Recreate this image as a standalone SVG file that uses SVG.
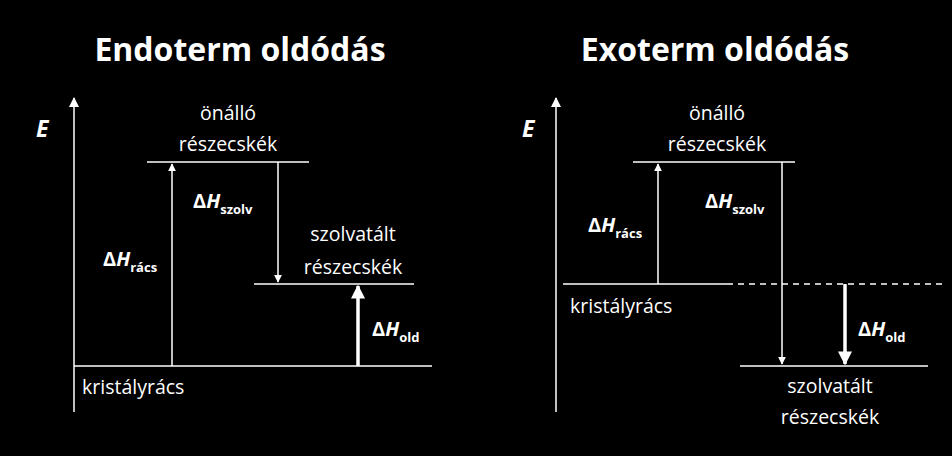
<svg xmlns="http://www.w3.org/2000/svg" width="952" height="456" viewBox="0 0 952 456">
<style>
text{font-family:"Open Sans","Liberation Sans",sans-serif;fill:#fff}
.t{font-size:32px;font-weight:bold;text-anchor:middle}
.l{font-size:19.5px}
.c{text-anchor:middle}
.b{font-weight:bold;font-size:20px}
.s{font-size:13px;font-weight:bold}
line{stroke:#fff;stroke-width:1.5}
.th{stroke-width:3.5}
</style>
<defs>
<marker id="a" viewBox="0 0 10 10" refX="9" refY="5" markerWidth="8" markerHeight="8" markerUnits="userSpaceOnUse" orient="auto"><path d="M0,0L10,5L0,10z" fill="#fff"/></marker>
<marker id="ab" viewBox="0 0 10 10" refX="9" refY="5" markerWidth="4" markerHeight="4" orient="auto"><path d="M0,0L10,5L0,10z" fill="#fff"/></marker>
<marker id="ax" viewBox="0 0 10 10" refX="9" refY="5" markerWidth="14" markerHeight="10" markerUnits="userSpaceOnUse" orient="auto"><path d="M0,0L10,5L0,10z" fill="#fff"/></marker>
</defs>
<rect width="952" height="456" fill="#000"/>
<text class="t" x="240" y="61">Endoterm oldódás</text>
<text class="t" x="715" y="61">Exoterm oldódás</text>
<g id="conn">
<line x1="74" y1="412" x2="74" y2="98" marker-end="url(#ax)"/>
<line x1="74" y1="366" x2="432" y2="366"/>
<line x1="147" y1="162" x2="309" y2="162"/>
<line x1="254" y1="284" x2="414" y2="284"/>
<line x1="172" y1="366" x2="172" y2="164" marker-end="url(#a)"/>
<line x1="278" y1="162" x2="278" y2="282" marker-end="url(#a)"/>
<line class="th" x1="358" y1="366" x2="358" y2="286" marker-end="url(#ab)"/>
<line x1="556" y1="412" x2="556" y2="98" marker-end="url(#ax)"/>
<line x1="563" y1="284" x2="727" y2="284"/>
<line x1="727" y1="284" x2="945" y2="284" stroke-dasharray="6,5"/>
<line x1="633" y1="162" x2="795" y2="162"/>
<line x1="740" y1="366" x2="928" y2="366"/>
<line x1="658" y1="284" x2="658" y2="164" marker-end="url(#a)"/>
<line x1="782" y1="162" x2="782" y2="364" marker-end="url(#a)"/>
<line class="th" x1="845" y1="284" x2="845" y2="364" marker-end="url(#ab)"/>
</g>
<g id="left">
<text x="36" y="137" style="font-size:23px;font-weight:bold;font-style:italic">E</text>
<text class="l c" x="228" y="120">önálló</text>
<text class="l c" x="228" y="151">részecskék</text>
<text class="l" x="82" y="394">kristályrács</text>
<text class="l c" x="353" y="241">szolvatált</text>
<text class="l c" x="353" y="274">részecskék</text>
<text x="103" y="266" class="b">Δ<tspan font-style="italic">H</tspan><tspan class="s" dy="6">rács</tspan></text>
<text x="193" y="208" class="b">Δ<tspan font-style="italic">H</tspan><tspan class="s" dy="6">szolv</tspan></text>
<text x="372" y="336" class="b">Δ<tspan font-style="italic">H</tspan><tspan class="s" dy="6">old</tspan></text>
</g>
<g id="right">
<text x="522" y="137" style="font-size:23px;font-weight:bold;font-style:italic">E</text>
<text class="l c" x="717" y="120">önálló</text>
<text class="l c" x="717" y="151">részecskék</text>
<text class="l" x="570" y="313">kristályrács</text>
<text class="l c" x="830" y="393">szolvatált</text>
<text class="l c" x="830" y="424">részecskék</text>
<text x="588" y="232" class="b">Δ<tspan font-style="italic">H</tspan><tspan class="s" dy="6">rács</tspan></text>
<text x="705" y="208" class="b">Δ<tspan font-style="italic">H</tspan><tspan class="s" dy="6">szolv</tspan></text>
<text x="858" y="336" class="b">Δ<tspan font-style="italic">H</tspan><tspan class="s" dy="6">old</tspan></text>
</g>
</svg>
